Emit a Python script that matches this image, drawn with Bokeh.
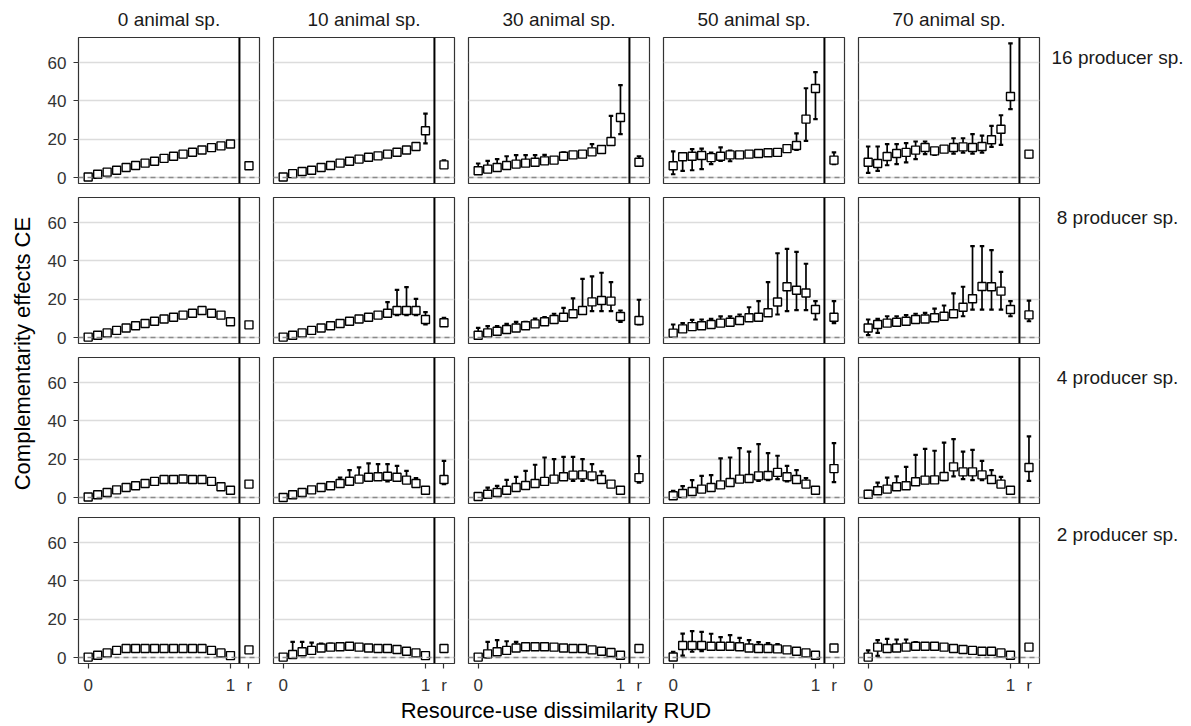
import math
from bokeh.plotting import figure
from bokeh.layouts import row, column
from bokeh.models import Range1d, FixedTicker, CustomJSTickFormatter, Span, ColumnDataSource
from bokeh.embed import file_html
from bokeh.resources import INLINE
from bokeh.core.properties import value

FONT = "Liberation Sans"

# ---------------- data ----------------
animal_levels = ["0 animal sp.", "10 animal sp.", "30 animal sp.", "50 animal sp.", "70 animal sp."]
producer_levels = ["16 producer sp.", "8 producer sp.", "4 producer sp.", "2 producer sp."]

rud = [0.0, 0.0667, 0.1333, 0.2, 0.2667, 0.3333, 0.4, 0.4667, 0.5333,
       0.6, 0.6667, 0.7333, 0.8, 0.8667, 0.9333, 1.0]
R_POS = 1.13          # x position of the "r" (random) category
SEP_POS = 1.063       # separator between RUD range and "r"
y_ticks = [0, 20, 40, 60]
x_ticks = [0, 1, R_POS]
x_tick_labels = ["0", "1", "r"]

# 16 producer species (one list per animal level)
p16_mean = [
    [0.3, 1.7, 2.8, 3.8, 5.2, 6.3, 7.5, 8.5, 10.0, 11.1, 12.2, 13.2, 14.4, 15.6, 16.5, 17.5],
    [0.3, 2.0, 3.1, 3.8, 5.2, 6.3, 7.5, 8.5, 9.6, 10.6, 11.3, 12.2, 13.2, 14.4, 16.2, 24.4],
    [3.5, 4.4, 5.2, 6.3, 7.0, 7.5, 8.0, 8.7, 9.1, 11.1, 11.8, 12.2, 13.4, 14.6, 18.8, 31.3],
    [6.1, 10.8, 11.1, 11.5, 10.4, 11.1, 11.8, 11.8, 12.2, 12.5, 12.9, 13.1, 15.1, 16.7, 30.5, 46.5],
    [8.0, 7.3, 11.0, 12.5, 13.1, 14.3, 15.7, 13.9, 14.8, 15.7, 16.0, 15.7, 16.2, 19.7, 25.2, 42.3],
]
p16_upper = [
    [0.3, 1.7, 2.8, 3.8, 5.2, 6.3, 7.5, 8.5, 10.0, 11.1, 12.2, 13.2, 14.4, 15.6, 16.5, 17.5],
    [0.3, 2.0, 3.1, 3.8, 5.2, 6.3, 7.5, 8.5, 9.6, 10.6, 11.3, 12.2, 13.2, 14.4, 16.2, 33.4],
    [7.3, 8.7, 9.6, 11.1, 11.7, 11.7, 11.7, 11.8, 9.1, 13.1, 12.5, 12.2, 17.4, 14.6, 32.2, 48.2],
    [13.6, 12.5, 14.8, 15.1, 13.0, 15.7, 14.0, 11.8, 12.2, 12.5, 12.9, 13.1, 16.5, 23.0, 46.6, 55.0],
    [16.2, 16.2, 17.4, 17.4, 17.9, 18.8, 18.8, 13.9, 16.0, 20.5, 20.5, 22.6, 21.9, 27.0, 32.5, 70.0],
]
p16_lower = [
    [0.3, 1.7, 2.8, 3.8, 5.2, 6.3, 7.5, 8.5, 10.0, 11.1, 12.2, 13.2, 14.4, 15.6, 16.5, 17.5],
    [0.3, 2.0, 3.1, 3.8, 5.2, 6.3, 7.5, 8.5, 9.6, 10.6, 11.3, 12.2, 13.2, 14.4, 16.2, 17.8],
    [3.5, 4.4, 5.2, 6.3, 7.0, 7.5, 8.0, 8.7, 9.1, 11.1, 11.8, 12.2, 13.4, 14.6, 18.8, 22.6],
    [1.7, 3.5, 3.8, 4.4, 7.0, 8.7, 8.5, 11.8, 12.2, 12.5, 12.9, 13.1, 15.1, 14.4, 19.1, 30.5],
    [2.4, 3.5, 6.4, 7.0, 7.9, 9.6, 12.2, 11.8, 14.8, 12.5, 13.0, 12.5, 13.0, 16.0, 17.0, 35.7],
]
p16_r_mean = [6.1, 6.6, 8.0, 9.1, 12.2]
p16_r_upper = [6.1, 9.0, 11.1, 13.1, 13.6]
p16_r_lower = [6.1, 5.6, 6.6, 7.0, 10.4]

# 8 producer species
p8_mean = [
    [0.2, 1.2, 2.4, 3.7, 5.0, 6.1, 7.3, 8.5, 9.7, 10.6, 11.7, 12.7, 14.1, 12.7, 11.7, 8.2],
    [0.2, 1.2, 2.4, 3.7, 5.0, 6.1, 7.3, 8.5, 9.7, 10.6, 11.7, 12.7, 14.1, 14.1, 14.1, 9.4],
    [1.2, 2.4, 3.3, 4.2, 5.0, 6.1, 7.1, 8.2, 9.4, 10.6, 12.4, 14.1, 18.6, 19.3, 19.0, 11.0],
    [2.3, 4.5, 5.7, 6.1, 6.8, 7.5, 8.0, 8.9, 10.3, 10.6, 12.9, 18.5, 26.5, 24.7, 23.2, 14.6],
    [5.0, 6.8, 7.5, 8.0, 8.5, 9.4, 9.7, 10.3, 11.1, 12.4, 15.8, 20.2, 26.6, 26.5, 24.2, 14.6],
]
p8_upper = [
    [0.2, 1.2, 2.4, 3.7, 5.0, 6.1, 7.3, 8.5, 9.7, 10.6, 11.7, 12.7, 14.1, 12.7, 11.7, 8.2],
    [0.2, 1.2, 2.4, 3.7, 5.0, 6.1, 7.3, 8.5, 9.7, 10.6, 11.7, 18.5, 24.9, 26.3, 20.2, 13.2],
    [5.0, 5.9, 5.9, 7.1, 8.2, 8.2, 9.9, 10.6, 12.4, 15.5, 20.4, 30.6, 31.9, 33.8, 28.9, 14.1],
    [6.8, 7.5, 9.2, 9.4, 9.7, 11.0, 11.0, 12.0, 15.8, 19.0, 28.9, 44.0, 46.3, 44.7, 38.5, 19.0],
    [9.4, 9.7, 11.1, 11.1, 11.7, 12.4, 12.9, 15.1, 16.7, 23.0, 26.5, 47.7, 47.7, 45.6, 34.3, 19.0],
]
p8_lower = [
    [0.2, 1.2, 2.4, 3.7, 5.0, 6.1, 7.3, 8.5, 9.7, 10.6, 11.7, 12.7, 14.1, 12.7, 11.7, 8.2],
    [0.2, 1.2, 2.4, 3.7, 5.0, 6.1, 7.3, 8.5, 9.7, 10.6, 11.7, 12.7, 11.7, 11.7, 11.7, 6.8],
    [1.2, 2.4, 3.3, 4.2, 5.0, 6.1, 7.1, 8.2, 9.4, 10.6, 12.4, 14.1, 13.8, 13.8, 13.8, 8.2],
    [2.3, 4.5, 5.7, 6.1, 6.8, 7.5, 8.0, 8.9, 10.3, 10.6, 12.9, 12.0, 13.8, 14.3, 14.3, 9.4],
    [1.2, 2.4, 7.5, 8.0, 8.5, 9.4, 9.7, 10.3, 11.1, 12.4, 11.1, 14.6, 14.6, 14.6, 14.6, 11.1],
]
p8_r_mean = [6.6, 7.7, 8.9, 10.6, 11.8]
p8_r_upper = [6.6, 10.3, 19.7, 19.0, 19.3]
p8_r_lower = [6.6, 6.0, 6.8, 7.5, 8.5]

# 4 producer species
p4_mean = [
    [0.3, 1.4, 2.6, 4.0, 5.2, 6.1, 7.3, 8.4, 9.4, 9.4, 9.7, 9.4, 9.4, 8.4, 5.6, 3.8],
    [0.0, 1.4, 2.6, 4.0, 5.2, 6.1, 7.3, 8.5, 9.6, 10.6, 10.8, 11.1, 10.6, 9.1, 7.3, 3.8],
    [0.5, 1.7, 2.6, 3.8, 5.2, 6.3, 7.3, 8.4, 9.6, 10.8, 11.7, 11.8, 11.3, 9.4, 7.0, 3.8],
    [0.9, 2.1, 3.1, 4.4, 5.2, 6.6, 7.8, 9.6, 9.9, 11.3, 11.5, 13.1, 10.8, 9.4, 7.0, 3.8],
    [1.7, 3.5, 4.4, 5.6, 6.1, 8.2, 9.1, 9.2, 11.0, 16.0, 13.4, 13.4, 11.8, 9.4, 7.0, 3.8],
]
p4_upper = [
    [0.3, 1.4, 2.6, 4.0, 5.2, 6.1, 7.3, 8.4, 9.4, 9.4, 9.7, 9.4, 9.4, 8.4, 5.6, 3.8],
    [0.0, 1.4, 2.6, 4.0, 5.2, 6.1, 10.4, 14.3, 15.7, 17.8, 17.4, 17.4, 16.5, 13.9, 10.1, 3.8],
    [0.5, 5.2, 6.1, 9.2, 10.8, 13.9, 17.1, 20.9, 20.0, 21.2, 21.2, 20.0, 17.4, 13.6, 7.0, 3.8],
    [3.5, 5.9, 9.1, 11.3, 11.7, 20.4, 20.9, 25.8, 24.0, 27.9, 23.2, 21.8, 16.5, 14.3, 10.1, 3.8],
    [3.5, 7.8, 10.4, 11.0, 16.0, 22.3, 25.4, 24.4, 28.7, 30.5, 24.0, 24.9, 19.1, 14.3, 10.8, 3.8],
]
p4_lower = [
    [0.3, 1.4, 2.6, 4.0, 5.2, 6.1, 7.3, 8.4, 9.4, 9.4, 9.7, 9.4, 9.4, 8.4, 5.6, 3.8],
    [0.0, 1.4, 2.6, 4.0, 5.2, 6.1, 7.3, 8.5, 9.6, 9.6, 9.6, 8.4, 9.1, 9.1, 7.3, 3.8],
    [0.5, 1.7, 2.6, 3.8, 5.2, 6.3, 7.3, 8.4, 9.6, 10.8, 8.7, 8.7, 9.1, 9.4, 7.0, 3.8],
    [0.9, 2.1, 3.1, 4.4, 5.2, 6.6, 7.8, 9.6, 9.9, 8.7, 9.1, 9.6, 8.4, 9.4, 7.0, 3.8],
    [1.7, 3.5, 4.4, 5.6, 6.1, 8.2, 9.1, 9.2, 9.1, 11.0, 9.6, 9.1, 9.1, 9.4, 7.0, 3.8],
]
p4_r_mean = [7.0, 9.4, 10.4, 15.1, 15.7]
p4_r_upper = [7.0, 19.1, 21.6, 28.4, 31.9]
p4_r_lower = [7.0, 7.0, 7.8, 8.0, 8.7]

# 2 producer species
p2_mean = [
    [0.2, 1.2, 2.4, 3.7, 4.7, 4.7, 4.7, 4.7, 4.7, 4.7, 4.7, 4.7, 4.7, 3.7, 2.4, 1.0],
    [0.2, 1.6, 3.0, 3.7, 5.0, 5.4, 5.6, 5.9, 5.4, 5.0, 4.7, 4.7, 4.2, 3.3, 2.4, 1.0],
    [0.2, 1.9, 3.0, 3.7, 5.0, 5.6, 5.6, 5.6, 5.4, 5.0, 4.7, 4.7, 4.0, 3.3, 2.6, 1.2],
    [0.3, 6.3, 6.3, 6.3, 5.9, 5.9, 5.9, 5.6, 5.0, 4.7, 4.7, 4.5, 4.0, 3.3, 2.4, 1.2],
    [0.2, 5.4, 4.7, 5.0, 5.4, 5.9, 5.9, 5.9, 5.4, 4.7, 4.2, 3.7, 3.3, 3.3, 2.4, 1.2],
]
p2_upper = [
    [0.2, 1.2, 2.4, 3.7, 4.7, 4.7, 4.7, 4.7, 4.7, 4.7, 4.7, 4.7, 4.7, 3.7, 2.4, 1.0],
    [0.2, 8.2, 8.2, 7.8, 7.3, 7.3, 7.0, 6.7, 6.0, 5.0, 4.7, 4.7, 4.2, 3.3, 2.4, 1.0],
    [0.2, 8.2, 9.1, 8.5, 8.2, 7.5, 6.5, 6.0, 5.4, 5.0, 4.7, 4.7, 4.0, 3.3, 2.6, 1.2],
    [3.0, 12.5, 13.8, 13.4, 12.4, 10.6, 11.7, 10.3, 9.1, 8.0, 7.5, 7.0, 4.0, 3.3, 2.4, 1.2],
    [3.7, 9.1, 9.7, 9.4, 9.4, 8.0, 7.0, 6.5, 6.3, 4.7, 4.2, 3.7, 3.3, 3.3, 2.4, 1.2],
]
p2_lower = [
    [0.2, 1.2, 2.4, 3.7, 4.7, 4.7, 4.7, 4.7, 4.7, 4.7, 4.7, 4.7, 4.7, 3.7, 2.4, 1.0],
    [0.2, 0.5, 2.5, 3.7, 5.0, 5.4, 5.6, 5.9, 5.4, 5.0, 4.7, 4.7, 4.2, 3.3, 2.4, 1.0],
    [0.2, 0.0, 1.5, 3.0, 5.0, 5.6, 5.6, 5.6, 5.4, 5.0, 4.7, 4.7, 4.0, 3.3, 2.6, 1.2],
    [0.3, 1.0, 3.0, 3.3, 4.2, 5.9, 5.9, 5.6, 5.0, 4.7, 4.7, 4.5, 4.0, 3.3, 2.4, 1.2],
    [0.2, 0.8, 4.7, 5.0, 5.4, 5.9, 5.9, 5.9, 5.4, 4.7, 4.2, 3.7, 3.3, 3.3, 2.4, 1.2],
]
p2_r_mean = [4.0, 4.7, 4.7, 5.0, 5.4]
p2_r_upper = [4.0, 4.7, 4.7, 5.0, 5.4]
p2_r_lower = [4.0, 4.7, 4.7, 5.0, 5.4]

rows_data = [
    (p16_mean, p16_upper, p16_lower, p16_r_mean, p16_r_upper, p16_r_lower),
    (p8_mean, p8_upper, p8_lower, p8_r_mean, p8_r_upper, p8_r_lower),
    (p4_mean, p4_upper, p4_lower, p4_r_mean, p4_r_upper, p4_r_lower),
    (p2_mean, p2_upper, p2_lower, p2_r_mean, p2_r_upper, p2_r_lower),
]

# ---------------- layout constants ----------------
FRAME_W, FRAME_H = 181, 146
YT_W = 40            # width of the y-title strip
LEFT_B = 38          # left border of first column (tick labels)
GAP_B = 7            # border on each side of panel
BOT_B = 36           # bottom border of last row (x tick labels)
TITLE_H = 30
LABEL_W = 145
TICK_COLOR = "#333333"


def text_fig(width, height, items, size, color="#1a1a1a"):
    p = figure(width=width, height=height, x_range=Range1d(0, width), y_range=Range1d(0, height),
               x_axis_location=None, y_axis_location=None, toolbar_location=None,
               output_backend="svg", min_border=0, title=None)
    p.outline_line_color = None
    p.grid.visible = False
    for (x, y, txt, ang, align) in items:
        p.text(x=[x], y=[y], text=[txt], angle=ang, text_font=value(FONT), text_font_size=size,
               text_color=color, text_align=align, text_baseline="middle")
    return p


def panel(mean, up, lo, rm, ru, rl, left, bottom):
    bl = LEFT_B if left else GAP_B
    bb = BOT_B if bottom else GAP_B
    p = figure(width=bl + FRAME_W + GAP_B, height=GAP_B + FRAME_H + bb,
               x_range=Range1d(-0.068, 1.204), y_range=Range1d(-3.13, 73.1),
               x_axis_location="below" if bottom else None,
               y_axis_location="left" if left else None,
               toolbar_location=None, output_backend="svg", title=None,
               min_border_left=bl, min_border_right=GAP_B,
               min_border_top=GAP_B, min_border_bottom=bb)
    p.outline_line_color = "#333333"
    p.outline_line_width = 1.2
    p.xgrid.visible = False
    p.ygrid.ticker = FixedTicker(ticks=y_ticks)
    p.ygrid.grid_line_color = "#dcdcdc"
    p.ygrid.grid_line_width = 1.3
    if left:
        ax = p.yaxis[0]
        ax.ticker = FixedTicker(ticks=y_ticks)
        ax.axis_line_color = None
        ax.major_tick_line_color = TICK_COLOR
        ax.major_tick_line_width = 1.2
        ax.major_tick_out = 5
        ax.major_tick_in = 0
        ax.minor_tick_line_color = None
        ax.major_label_text_font = FONT
        ax.major_label_text_font_size = "17px"
        ax.major_label_text_color = TICK_COLOR
        ax.major_label_standoff = 7
    if bottom:
        ax = p.xaxis[0]
        ax.ticker = FixedTicker(ticks=x_ticks)
        ax.formatter = CustomJSTickFormatter(
            args=dict(labels=x_tick_labels),
            code="return tick > 1.05 ? labels[2] : (tick > 0.5 ? labels[1] : labels[0]);")
        ax.axis_line_color = None
        ax.major_tick_line_color = TICK_COLOR
        ax.major_tick_line_width = 1.2
        ax.major_tick_out = 5
        ax.major_tick_in = 0
        ax.minor_tick_line_color = None
        ax.major_label_text_font = FONT
        ax.major_label_text_font_size = "17px"
        ax.major_label_text_color = TICK_COLOR
        ax.major_label_standoff = 7

    p.add_layout(Span(location=0, dimension="width", line_color="#8a8a8a",
                      line_dash="5 4", line_width=1.3))
    p.add_layout(Span(location=SEP_POS, dimension="height", line_color="black", line_width=2))

    xs = rud + [R_POS]
    ms = mean + [rm]
    us = up + [ru]
    ls = lo + [rl]
    idx = [i for i in range(len(xs)) if us[i] - ls[i] > 0.25]
    eb = ColumnDataSource(dict(x=[xs[i] for i in idx], lo=[ls[i] for i in idx], hi=[us[i] for i in idx]))
    p.segment(x0="x", y0="lo", x1="x", y1="hi", source=eb, line_color="black", line_width=1.7)
    p.scatter(x="x", y="hi", source=eb, marker="dash", size=4.5, line_color="black", line_width=2.2)
    p.scatter(x="x", y="lo", source=eb, marker="dash", size=4.5, line_color="black", line_width=2.2)
    p.scatter(x=xs, y=ms, marker="square", size=8, fill_color="white",
              line_color="black", line_width=1.4)
    return p


# ---------------- build ----------------
col_widths = [(LEFT_B if c == 0 else GAP_B) + FRAME_W + GAP_B for c in range(5)]

title_figs = []
for c, lab in enumerate(animal_levels):
    bl = LEFT_B if c == 0 else GAP_B
    title_figs.append(text_fig(col_widths[c], TITLE_H,
                               [(bl + FRAME_W / 2, TITLE_H - 18.5, lab, 0, "center")], "19px"))

panel_rows = []
for r, (M, U, L, RM, RU, RL) in enumerate(rows_data):
    bottom = (r == 3)
    figs = [panel(M[c], U[c], L[c], RM[c], RU[c], RL[c], c == 0, bottom) for c in range(5)]
    h = GAP_B + FRAME_H + (BOT_B if bottom else GAP_B)
    figs.append(text_fig(LABEL_W, h, [(71, h - 22, producer_levels[r], 0, "center")], "19px"))
    panel_rows.append(row(*figs))

total_w = sum(col_widths)
xtitle = text_fig(total_w, 27, [(LEFT_B + (total_w - LEFT_B - GAP_B) / 2, 16,
                                  "Resource-use dissimilarity  RUD", 0, "center")], "22px", "black")

ytitle = text_fig(YT_W, 726, [(22, 726 - 350, "Complementarity effects  CE", math.pi / 2, "center")],
                  "22px", "black")

layout = row(ytitle, column(row(*title_figs), *panel_rows, xtitle))

open("out.html", "w").write(file_html(layout, INLINE))
